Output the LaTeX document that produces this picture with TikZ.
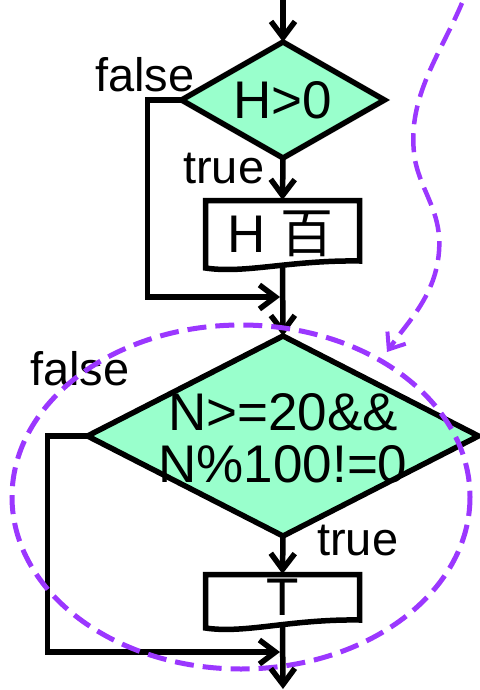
\documentclass[tikz,border=0pt]{standalone}
\usepackage{fontspec}
\setmainfont{Liberation Sans}
\newfontfamily\cjk{Noto Sans CJK SC}
\usetikzlibrary{arrows.meta,shapes.geometric}
\definecolor{dgreen}{RGB}{153,255,204}
\definecolor{vpurple}{RGB}{155,55,255}
\tikzset{
  blk/.style={line width=5.5pt, draw=black},
  arr/.style={blk, -{Straight Barb[length=16pt,width=24pt]}},
  dia/.style={shape=diamond, draw=black, line width=5.5pt, fill=dgreen, inner sep=0pt, outer sep=0pt},
  big/.style={font=\fontsize{53}{52}\selectfont, inner sep=0pt},
  lab/.style={font=\fontsize{47}{50}\selectfont, inner sep=0pt, anchor=base west},
  docbox/.style={draw=none, inner sep=0pt, outer sep=0pt},
  pdash/.style={draw=vpurple, line width=5pt, dash pattern=on 19pt off 9pt},
}
\begin{document}
\begin{tikzpicture}[x=1pt,y=-1pt]
\useasboundingbox (0,0) rectangle (479,690);
% nodes
\node[dia, minimum width=203, minimum height=116] (d1) at (283,100) {};
\node[big] (t1) at (d1.center) {H>0};
\node[docbox, minimum width=154, minimum height=66] (b1) at (282.5,233) {};
\node[big, anchor=base] (tb1) at (280,252) {H \cjk 百};
\node[dia, minimum width=391, minimum height=200] (d2) at (283,436) {};
\node[big, align=center] (t2) at (283,438) {N>=20\&\&\\N\%100!=0};
\node[docbox, minimum width=154, minimum height=52] (b2) at (282.5,600) {};
\node[big, anchor=base] (tb2) at (283,615) {T};
% labels
\node[lab] (f1) at (95,92) {false};
\node[lab] (tr1) at (183,183) {true};
\node[lab] (f2) at (30,385) {false};
\node[lab] (tr2) at (317,555) {true};
% coordinates
\coordinate (top) at (283,0);
\coordinate (m1) at (280,297);
\coordinate (m2) at (280,652);
\coordinate (out) at (283,689);
% document outlines
\draw[blk, line join=miter] (205.5,268) -- (205.5,200.5) -- (359.5,200.5) -- (359.5,261)
  .. controls (290,260) and (245,274) .. cycle;
\draw[blk, line join=miter] (205.5,628) -- (205.5,574.5) -- (359.5,574.5) -- (359.5,620)
  .. controls (290,619) and (245,634) .. cycle;
% connectors
\draw[arr] (top) -- (d1.north);
\draw[arr] (d1.south) -- (b1.north);
\draw[arr] (d1.west) -- ++(-34,0) |- (m1);
\draw[arr] (b1.south) -- (d2.north);
\draw[arr] (d2.south) -- (b2.north);
\draw[arr] (d2.west) -- ++(-40,0) |- (m2);
% purple
\draw[pdash] (241,497) ellipse [x radius=229, y radius=172];
\draw[pdash, line width=4.5pt, -{Straight Barb[length=14pt,width=22pt,line width=4pt]}] (462,3) .. controls (440,55) and (405,100) .. (415,160)
  .. controls (422,195) and (445,215) .. (438,260)
  .. controls (432,300) and (405,325) .. (387,352);
\draw[arr] (b2.south) -- (out);
\end{tikzpicture}
\end{document}
